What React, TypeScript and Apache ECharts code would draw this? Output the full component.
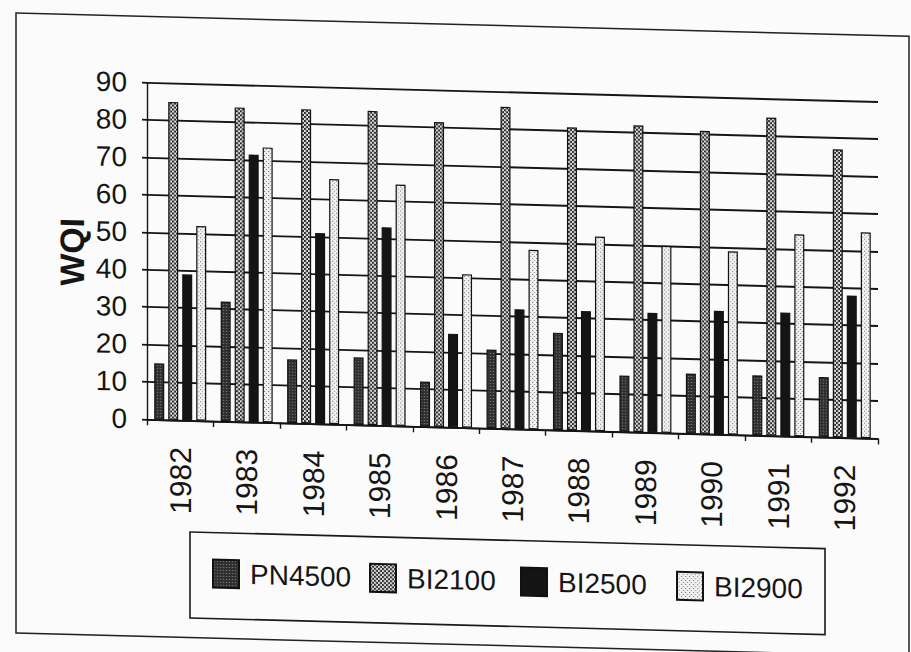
import React, { useEffect, useRef } from "react";
import * as echarts from "echarts";

// Water quality index by station, 1982–1992
const years = ["1982", "1983", "1984", "1985", "1986", "1987", "1988", "1989", "1990", "1991", "1992"];
const pn4500 = [15, 32, 17, 18, 12, 21, 26, 15, 16, 16, 16];
const bi2100 = [85, 84, 84, 84, 81.5, 86, 81, 82, 81, 85, 77];
const bi2500 = [39, 71.5, 51, 53, 25, 32, 32, 32, 33, 33, 38];
const bi2900 = [52, 73.5, 65.5, 64.5, 41, 48, 52, 50, 49, 54, 55];

const FONT = '"Liberation Sans", Arial, sans-serif';
const INK = "#151515";

function makePattern(size: number, bg: string, fg: string, cells: number[][], cell = 1) {
  const c = document.createElement("canvas");
  c.width = size;
  c.height = size;
  const ctx = c.getContext("2d")!;
  ctx.fillStyle = bg;
  ctx.fillRect(0, 0, size, size);
  ctx.fillStyle = fg;
  cells.forEach(([x, y]) => ctx.fillRect(x, y, cell, cell));
  return c;
}

export default function App() {
  const ref = useRef<HTMLDivElement>(null);

  useEffect(() => {
    if (!ref.current) return;
    const chart = echarts.init(ref.current, undefined, { renderer: "svg" });

    const fills = {
      PN4500: { image: makePattern(3, "#2e2e2e", "#a8a8a8", [[1, 1]]), repeat: "repeat" },
      BI2100: { image: makePattern(4, "#e2e2e2", "#2a2a2a", [[0, 0], [2, 2]], 2), repeat: "repeat" },
      BI2500: "#141414",
      BI2900: { image: makePattern(4, "#f2f2f2", "#707070", [[0, 0], [2, 2]]), repeat: "repeat" },
    } as Record<string, any>;

    const seriesDefs: [string, number[]][] = [
      ["PN4500", pn4500],
      ["BI2100", bi2100],
      ["BI2500", bi2500],
      ["BI2900", bi2900],
    ];

    const legendLeft: Record<string, number> = { PN4500: 212, BI2100: 369, BI2500: 520, BI2900: 676 };

    chart.setOption({
      animation: false,
      backgroundColor: "transparent",
      grid: { left: 147, right: 33, top: 78.8, bottom: 236.6, containLabel: false },
      xAxis: {
        type: "category",
        data: years,
        boundaryGap: true,
        axisLine: { show: true, lineStyle: { color: INK, width: 1.6 } },
        axisTick: { show: true, length: 6, interval: 0, lineStyle: { color: INK, width: 1.4 } },
        axisLabel: {
          interval: 0,
          rotate: 90,
          margin: 27,
          fontSize: 30,
          fontFamily: FONT,
          color: INK,
        },
        splitLine: { show: false },
      },
      yAxis: {
        type: "value",
        min: 0,
        max: 90,
        interval: 10,
        axisLine: { show: true, lineStyle: { color: INK, width: 1.4 } },
        axisTick: { show: true, length: 5, lineStyle: { color: INK, width: 1.8 } },
        axisLabel: { margin: 20, fontSize: 28, fontFamily: FONT, color: INK, padding: [0, 0, 6, 0] },
        splitLine: { show: true, lineStyle: { color: INK, width: 1.9 } },
      },
      legend: seriesDefs.map(([name]) => ({
        data: [name],
        left: legendLeft[name],
        top: 553,
        padding: 0,
        itemWidth: 26,
        itemHeight: 28,
        icon: "rect",
        selectedMode: false,
        textStyle: { fontSize: 28, fontFamily: FONT, color: INK, padding: [0, 0, 0, 6] },
      })),
      graphic: [
        {
          type: "rect",
          silent: true,
          shape: { x: 16, y: 12.5, width: 893, height: 620 },
          style: { fill: "none", stroke: "#222", lineWidth: 1.5 },
        },
        {
          type: "rect",
          silent: true,
          shape: { x: 190, y: 527, width: 635, height: 86 },
          style: { fill: "none", stroke: "#1a1a1a", lineWidth: 1.6 },
        },
        {
          type: "text",
          silent: true,
          x: 72,
          y: 250,
          rotation: Math.PI / 2,
          style: {
            text: "WQI",
            fontSize: 34,
            fontWeight: "bold",
            fontFamily: FONT,
            fill: INK,
            align: "center",
            verticalAlign: "middle",
            textAlign: "center",
            textVerticalAlign: "middle",
          },
        },
      ],
      series: seriesDefs.map(([name, values]) => ({
        name,
        type: "bar",
        data: values,
        barWidth: 10,
        barGap: "40%",
        itemStyle: { color: fills[name], borderColor: "#111", borderWidth: 1.2 },
        emphasis: { disabled: true },
      })),
    });

    return () => chart.dispose();
  }, []);

  return (
    <div
      style={{
        position: "fixed",
        left: 0,
        top: 0,
        width: 911,
        height: 652,
        overflow: "hidden",
        background: "#fbfbfb",
      }}
    >
      <div
        ref={ref}
        style={{ width: 911, height: 652, transform: "skewY(1.5deg)", transformOrigin: "0 0" }}
      />
    </div>
  );
}
